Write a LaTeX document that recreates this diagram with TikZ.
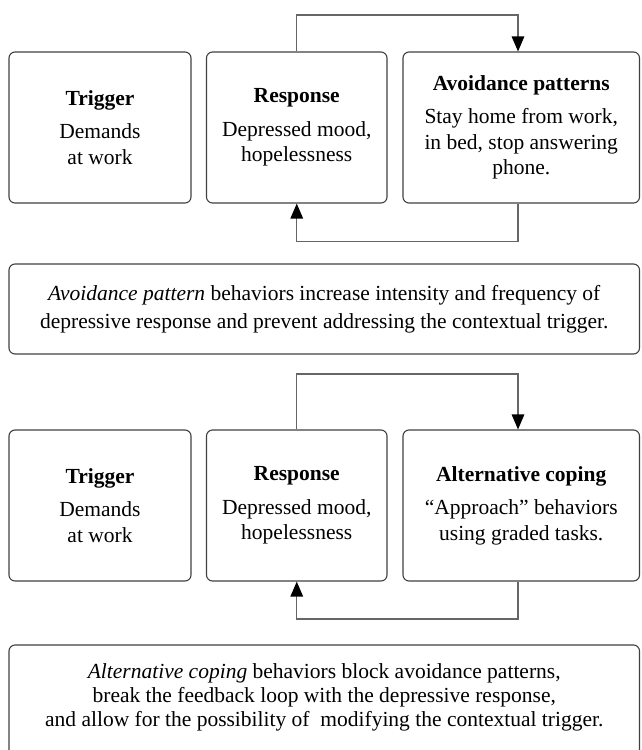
\documentclass[tikz,border=0pt]{standalone}
\usepackage{fontspec}
\setmainfont{Liberation Serif}
\usetikzlibrary{arrows.meta}
\begin{document}
\begin{tikzpicture}[x=1pt,y=-1pt,
  box/.style={draw=black!75, line width=1.1pt, rounded corners=6pt, align=center, inner sep=0pt,
    font=\fontsize{21.5}{25.5}\selectfont},
  smallbox/.style={box, minimum height=151pt},
  note/.style={box, font=\fontsize{21.5}{28}\selectfont},
  conn/.style={draw=black!60, line width=1.3pt},
  tip/.style={-{Triangle[length=15pt,width=12.5pt,color=black]}}
]
\useasboundingbox (0,0) rectangle (641,750);
% ---------- top diagram ----------
\node[smallbox, minimum width=182pt] (trig1) at (100,127.5) {\textbf{Trigger}\\[8pt]Demands\\at work};
\node[smallbox, minimum width=180.5pt] (resp1) at (296.75,127.5) {\textbf{Response}\\[8pt]Depressed mood,\\hopelessness};
\node[smallbox, minimum width=236.5pt] (avoid1) at (521.25,127.5) {\textbf{Avoidance patterns}\\[8pt]Stay home from work,\\in bed, stop answering\\phone.};
\coordinate (top1) at (518,15);
\coordinate (bot1) at (518,241.7);
\draw[conn,tip] (resp1.north) |- (top1) -- (top1 |- avoid1.north);
\draw[conn,tip] (bot1 |- avoid1.south) -- (bot1) -| (resp1.south);
\node[note, minimum width=630.5pt, minimum height=90pt] (note1) at (324.25,309)
  {\textit{Avoidance pattern} behaviors increase intensity and frequency of\\depressive response and prevent addressing the contextual trigger.};
% ---------- bottom diagram ----------
\node[smallbox, minimum width=182pt] (trig2) at (100,505.5) {\textbf{Trigger}\\[8pt]Demands\\at work};
\node[smallbox, minimum width=180.5pt] (resp2) at (296.75,505.5) {\textbf{Response}\\[8pt]Depressed mood,\\hopelessness};
\node[smallbox, minimum width=236.5pt] (alt2) at (521.25,505.5) {\textbf{Alternative coping}\\[8pt]“Approach” behaviors\\using graded tasks.};
\coordinate (top2) at (518,374);
\coordinate (bot2) at (518,619);
\draw[conn,tip] (resp2.north) |- (top2) -- (top2 |- alt2.north);
\draw[conn,tip] (bot2 |- alt2.south) -- (bot2) -| (resp2.south);
\node[box, minimum width=630.5pt, minimum height=116pt] (note2) at (324.25,703) {};
\node[align=center, inner sep=0pt, font=\fontsize{21.5}{24}\selectfont] (note2text) at (324.25,697)
  {\textit{Alternative coping} behaviors block avoidance patterns,\\break the feedback loop with the depressive response,\\and allow for the possibility of~ modifying the contextual trigger.};
\end{tikzpicture}
\end{document}
